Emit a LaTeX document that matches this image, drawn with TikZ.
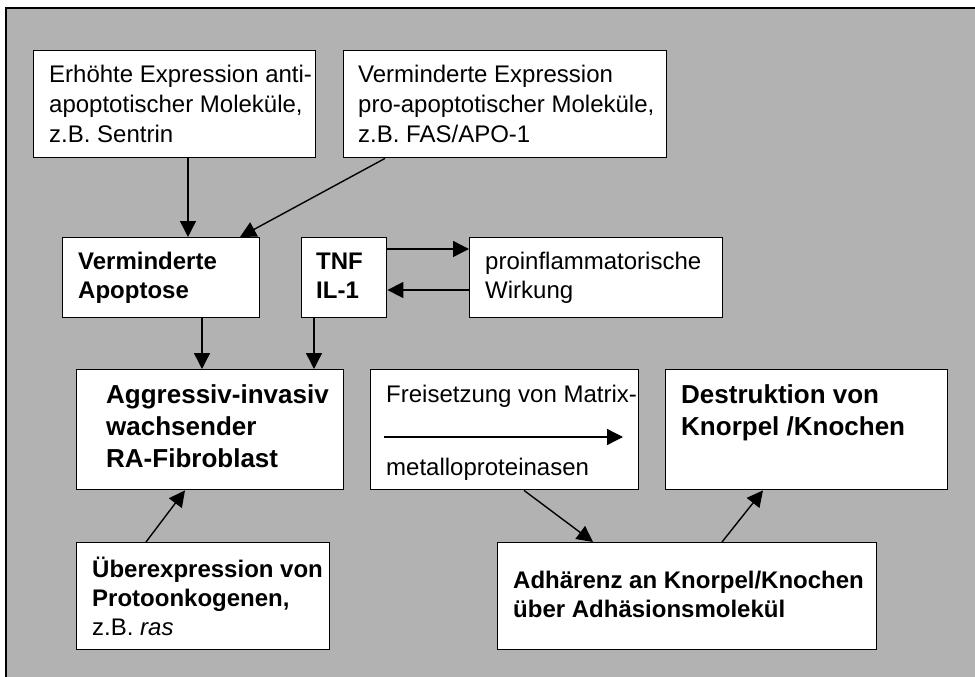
\documentclass[tikz,border=0pt]{standalone}
\usepackage{fontspec}
\setmainfont{Liberation Sans}
\usetikzlibrary{arrows.meta,calc}
\definecolor{bggray}{RGB}{178,178,178}
\newcommand\mlines[1]{\begin{tabular}[t]{@{}l@{}}#1\end{tabular}}
\begin{document}
\begin{tikzpicture}[x=1pt,y=-1pt,
  box/.style={draw=black,line width=1.4pt,fill=white,rectangle,inner sep=0pt,anchor=north west},
  txt/.style={inner sep=0pt,anchor=base west},
  reg/.style={txt,font=\fontsize{24}{29.5}\selectfont},
  bld/.style={txt,font=\bfseries\fontsize{24}{29}\selectfont},
  big/.style={txt,font=\bfseries\fontsize{26}{32}\selectfont},
  arr/.style={line width=1.4pt,-{Triangle[length=16pt,width=16pt]}},
  frame/.style={draw=black,line width=2.5pt,fill=bggray}]
\useasboundingbox (0,0) rectangle (975,677);
\clip (0,0) rectangle (975,677);
\fill[white] (0,0) rectangle (975,677);
\path[frame] (6,8) rectangle (990,700);

% boxes
\node[box,minimum width=282pt,minimum height=107pt] (b1) at (33,50) {};
\node[box,minimum width=323pt,minimum height=107pt] (b2) at (343,50) {};
\node[box,minimum width=197pt,minimum height=80pt] (b3) at (62,237) {};
\node[box,minimum width=85pt,minimum height=80pt] (b4) at (301,237) {};
\node[box,minimum width=253pt,minimum height=80pt] (b5) at (469,237) {};
\node[box,minimum width=267pt,minimum height=120pt] (b6) at (76,369) {};
\node[box,minimum width=268pt,minimum height=120pt] (b7) at (370,369) {};
\node[box,minimum width=282pt,minimum height=120pt] (b8) at (665,369) {};
\node[box,minimum width=253pt,minimum height=107pt] (b9) at (76,542) {};
\node[box,minimum width=379pt,minimum height=107pt] (b10) at (497,542) {};

% texts
\node[reg] (t1) at (49,83) {\mlines{Erhöhte Expression anti-\\apoptotischer Moleküle,\\z.B. Sentrin}};
\node[reg] (t2) at (358,83) {\mlines{Verminderte Expression\\pro-apoptotischer Moleküle,\\z.B. FAS/APO-1}};
\node[bld] (t3) at (78,269) {\mlines{Verminderte\\Apoptose}};
\node[bld] (t4) at (316,269) {\mlines{TNF\\IL-1}};
\node[reg] (t5) at (485,269) {\mlines{proinflammatorische\\Wirkung}};
\node[big] (t6) at (106,403) {\mlines{Aggressiv-invasiv\\wachsender\\RA-Fibroblast}};
\node[reg] (t7a) at (386,402) {Freisetzung von Matrix-};
\node[reg] (t7b) at (386,475) {metalloproteinasen};
\node[big] (t8) at (681,403) {\mlines{Destruktion von\\Knorpel /Knochen}};
\node[bld] (t9) at (92,577) {\mlines{Überexpression von\\Protoonkogenen,\\\mdseries z.B. \itshape ras}};
\node[bld] (t10) at (513,588) {\mlines{Adhärenz an Knorpel/Knochen\\über Adhäsionsmolekül}};

% connectors
\draw[arr] ($(b1.south west)+(155,0)$) -- ($(b3.north west)+(126,0)$);
\draw[arr] ($(b2.south west)+(42,0)$) -- ($(b3.north west)+(178,0)$);
\draw[arr] ($(b4.north east)+(0,12)$) -- ($(b5.north west)+(0,12)$);
\draw[arr] ($(b5.north west)+(0,53)$) -- ($(b4.north east)+(0,53)$);
\draw[arr] ($(b3.south west)+(140,0)$) -- ($(b6.north west)+(126,0)$);
\draw[arr] ($(b4.south west)+(13,0)$) -- ($(b6.north west)+(238,0)$);
\draw[arr] ($(b9.north west)+(70,0)$) -- ($(b6.south west)+(109,0)$);
\draw[arr] ($(b7.north west)+(14,68)$) -- ($(b7.north west)+(253,68)$);
\draw[arr] ($(b7.south west)+(154,0)$) -- ($(b10.north west)+(96,0)$);
\draw[arr] ($(b10.north west)+(225,0)$) -- ($(b8.south west)+(98,0)$);
\end{tikzpicture}
\end{document}
